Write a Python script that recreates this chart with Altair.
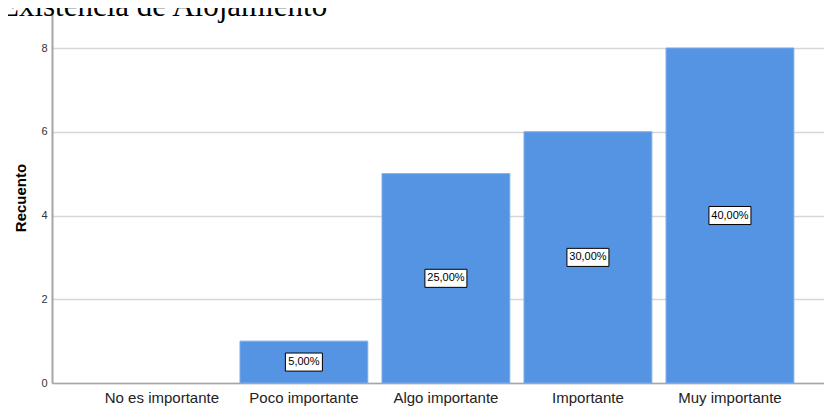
import altair as alt
import pandas as pd

categories = ["No es importante", "Poco importante", "Algo importante", "Importante", "Muy importante"]
counts = [0, 1, 5, 6, 8]
pct_labels = ["", "5,00%", "25,00%", "30,00%", "40,00%"]
title_text = "Existencia de Alojamiento"
y_ticks = [0, 2, 4, 6, 8]
y_max = 8.86

df = pd.DataFrame({"cat": categories, "count": counts, "pct": pct_labels})

yscale = alt.Scale(domain=[0, y_max], nice=False, zero=True)
xscale = alt.Scale(domain=categories, paddingInner=0.1, paddingOuter=0.268, align=0.604)

xaxis = alt.Axis(labelAngle=0, labelFontSize=15, labelFont="Liberation Sans",
                 labelColor="#222222", ticks=False, labelPadding=7,
                 domainColor="#a6a6a6", domainWidth=1.5, grid=False)
yaxis = alt.Axis(values=y_ticks, ticks=False, labelPadding=5, labelFontSize=11,
                 labelFont="Liberation Sans", labelColor="#333333",
                 titleFontSize=15, titleFont="Liberation Sans", titleFontWeight="bold",
                 titleColor="#000000", titlePadding=12,
                 grid=True, gridColor="#d6d6d6", gridWidth=1.3,
                 domainColor="#a6a6a6", domainWidth=2)

def xenc():
    return alt.X("cat:N", sort=categories, title=None, scale=xscale, axis=xaxis)

def yenc(field):
    return alt.Y(field, title="Recuento", scale=yscale, axis=yaxis)

bars = alt.Chart(df).transform_filter("datum.count > 0").mark_bar(
    color="#5594e3", stroke="#7eaaea", strokeWidth=1
).encode(x=xenc(), y=yenc("count:Q"))

lab_base = alt.Chart(df).transform_filter("datum.count > 0").transform_calculate(
    mid="datum.count / 2",
    hw="length(datum.pct) > 5 ? 1 : 0.881",
    box="'M' + (-datum.hw) + ',-0.43L' + datum.hw + ',-0.43L' + datum.hw + ',0.43L' + (-datum.hw) + ',0.43Z'",
)

boxes = lab_base.mark_point(filled=True, fill="white", stroke="black", strokeWidth=1, opacity=1).encode(
    x=xenc(),
    y=yenc("mid:Q"),
    shape=alt.Shape("box:N", scale=None),
    size=alt.value(1764),
)

texts = lab_base.mark_text(font="Liberation Sans", fontSize=11, color="black", baseline="middle", align="center").encode(
    x=xenc(),
    y=yenc("mid:Q"),
    text="pct:N",
)

title = alt.Chart(pd.DataFrame({"t": [title_text]})).mark_text(
    font="Liberation Serif", fontSize=31, align="left", baseline="alphabetic", color="black"
).encode(x=alt.value(-52), y=alt.value(4), text="t:N")

chart = alt.layer(bars, boxes, texts, title).properties(
    width=772, height=371,
    autosize=alt.AutoSizeParams(type="none"),
    padding={"left": 44, "top": 4, "right": 0, "bottom": 24},
).configure_view(stroke=None)

chart.save("out.html", embed_options={"renderer": "svg", "actions": False})
